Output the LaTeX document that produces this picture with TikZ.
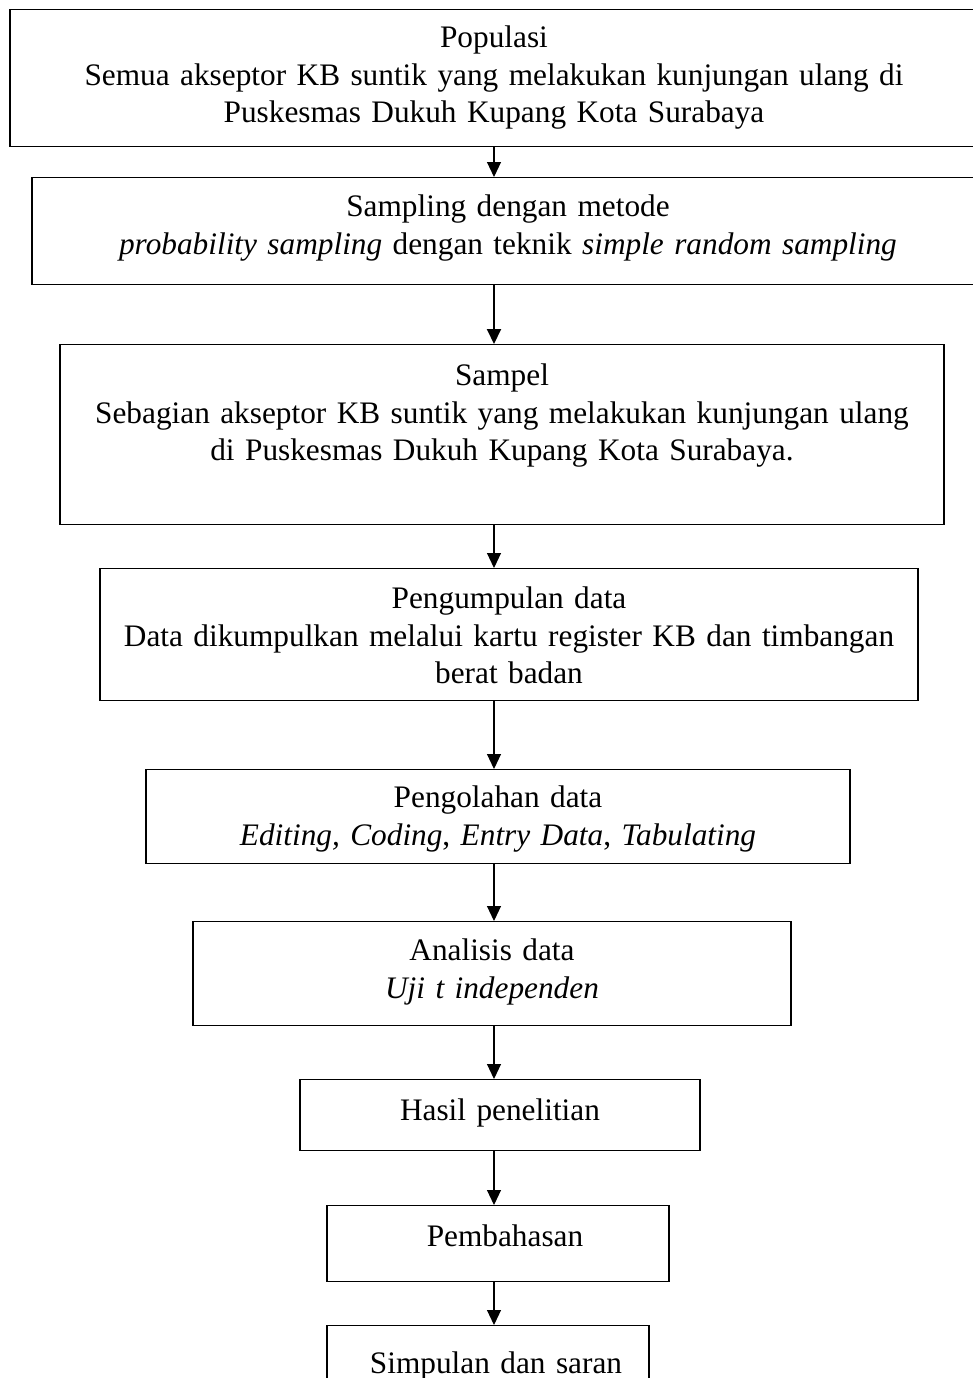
\documentclass[tikz,border=0pt]{standalone}
\usepackage{fontspec}
\setmainfont{Liberation Serif}
\usetikzlibrary{arrows.meta}

\begin{document}
\begin{tikzpicture}[x=1pt, y=-1pt,
  stepbox/.style={rectangle, draw, line width=1.2pt, anchor=north, inner sep=0pt, align=center, font=\fontsize{31.3}{37.5}\selectfont},
  arrow/.style={-{Triangle[length=15pt, width=14pt]}, line width=1.1pt}
]
\useasboundingbox (0,0) rectangle (973,1378);
\clip (0,0) rectangle (973,1378);
\coordinate (axis) at (494,0);

\node[stepbox, text width=968pt, text height=38pt, text depth=99pt] (pop) at (494,9) {Populasi\\Semua akseptor KB suntik yang melakukan kunjungan ulang di\\Puskesmas Dukuh Kupang Kota Surabaya};
\node[stepbox, text width=952pt, text height=39pt, text depth=68pt] (samp) at (508,177) {Sampling dengan metode\\\textit{probability sampling} dengan teknik \textit{simple random sampling}};
\node[stepbox, text width=884pt, text height=41pt, text depth=139pt] (sampel) at (502,344) {Sampel\\Sebagian akseptor KB suntik yang melakukan kunjungan ulang\\di Puskesmas Dukuh Kupang Kota Surabaya.};
\node[stepbox, text width=818pt, text height=40pt, text depth=92pt] (kumpul) at (509,568) {Pengumpulan data\\Data dikumpulkan melalui kartu register KB dan timbangan\\berat badan};
\node[stepbox, text width=704pt, text height=38pt, text depth=56pt] (olah) at (498,769) {Pengolahan data\\\textit{Editing, Coding}, \textit{Entry Data}, \textit{Tabulating}};
\node[stepbox, text width=598pt, text height=39pt, text depth=65pt] (analisis) at (492,921) {Analisis data\\\textit{Uji t independen}};
\node[stepbox, text width=400pt, text height=41pt, text depth=30pt] (hasil) at (500,1079) {Hasil penelitian};
\node[stepbox, text width=342pt, text height=41pt, text depth=35pt] (bahas) at (498,1205) {\hspace*{14pt}Pembahasan};
\node[stepbox, text width=322pt, text height=48pt, text depth=27pt] (simpul) at (488,1325) {\hspace*{16pt}Simpulan dan saran};

\draw[arrow] (pop.south -| axis) -- (samp.north -| axis);
\draw[arrow, line width=2pt] (samp.south -| axis) -- (sampel.north -| axis);
\draw[arrow] (sampel.south -| axis) -- (kumpul.north -| axis);
\draw[arrow] (kumpul.south -| axis) -- (olah.north -| axis);
\draw[arrow] (olah.south -| axis) -- (analisis.north -| axis);
\draw[arrow] (analisis.south -| axis) -- (hasil.north -| axis);
\draw[arrow] (hasil.south -| axis) -- (bahas.north -| axis);
\draw[arrow] (bahas.south -| axis) -- (simpul.north -| axis);
\end{tikzpicture}
\end{document}
